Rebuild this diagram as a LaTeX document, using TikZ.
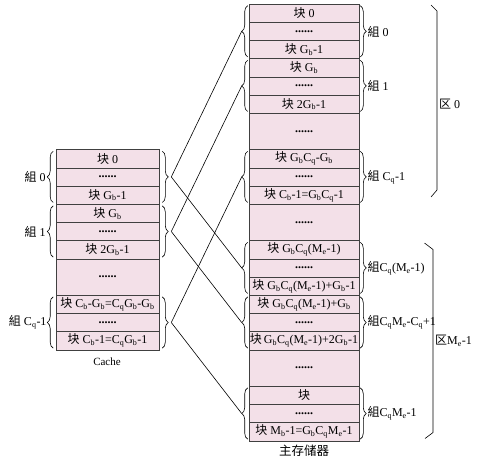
\documentclass[tikz,border=0pt]{standalone}
\usepackage{fontspec}
\setmainfont{Liberation Serif}
\newfontfamily\cjk{Noto Sans CJK SC}
\usetikzlibrary{decorations.pathreplacing}
\definecolor{cellpink}{RGB}{243,224,232}
\newcommand\sbs[1]{\textsubscript{#1}}
\newcommand\celldots{\textbf{......}}
\begin{document}
\begin{tikzpicture}[x=1pt,y=-1pt,
  cell/.style={draw=black!75, fill=cellpink, line width=0.6pt, inner sep=0pt,
    font=\fontsize{12}{13}\selectfont},
  mcell/.style={cell, minimum width=110pt, minimum height=18.2pt},
  mbig/.style={cell, minimum width=110pt, minimum height=36.4pt},
  ccell/.style={cell, minimum width=103pt, minimum height=18.2pt},
  cbig/.style={cell, minimum width=103pt, minimum height=36.4pt},
  gbrace/.style={decorate, decoration={brace, amplitude=6pt}, line width=0.6pt},
  lbl/.style={inner sep=0pt, font=\fontsize{12}{13}\selectfont},
  link/.style={line width=0.6pt}]
\useasboundingbox (0,0) rectangle (479,458);
% main memory
\node[mcell] (m0) at (304,13.1) {{\cjk 块} 0};
\node[mcell] (m1) at (304,31.3) {\celldots};
\node[mcell] (m2) at (304,49.5) {{\cjk 块} G\sbs{b}-1};
\node[mcell] (m3) at (304,67.7) {{\cjk 块} G\sbs{b}};
\node[mcell] (m4) at (304,85.9) {\celldots};
\node[mcell] (m5) at (304,104.1) {{\cjk 块} 2G\sbs{b}-1};
\node[mbig] (m6) at (304,131.4) {\celldots};
\node[mcell] (m7) at (304,158.7) {{\cjk 块} G\sbs{b}C\sbs{q}-G\sbs{b}};
\node[mcell] (m8) at (304,176.9) {\celldots};
\node[mcell] (m9) at (304,195.1) {{\cjk 块} C\sbs{b}-1=G\sbs{b}C\sbs{q}-1};
\node[mbig] (m10) at (304,222.4) {\celldots};
\node[mcell] (m11) at (304,249.7) {{\cjk 块} G\sbs{b}C\sbs{q}(M\sbs{e}-1)};
\node[mcell] (m12) at (304,267.9) {\celldots};
\node[mcell] (m13) at (304,286.1) {{\cjk 块} G\sbs{b}C\sbs{q}(M\sbs{e}-1)+G\sbs{b}-1};
\node[mcell] (m14) at (304,304.3) {{\cjk 块} G\sbs{b}C\sbs{q}(M\sbs{e}-1)+G\sbs{b}};
\node[mcell] (m15) at (304,322.5) {\celldots};
\node[mcell] (m16) at (304,340.7) {{\cjk 块}\,G\sbs{b}C\sbs{q}(M\sbs{e}-1)+2G\sbs{b}-1};
\node[mbig] (m17) at (304,368) {\celldots};
\node[mcell] (m18) at (304,395.3) {{\cjk 块}};
\node[mcell] (m19) at (304,413.5) {\celldots};
\node[mcell] (m20) at (304,431.7) {{\cjk 块} M\sbs{b}-1=G\sbs{b}C\sbs{q}M\sbs{e}-1};
\node[lbl, font=\fontsize{12.5}{13}\selectfont] (mlabel) at (304,451) {{\cjk 主存储器}};
% cache
\node[ccell] (c0) at (107.5,158.7) {{\cjk 块} 0};
\node[ccell] (c1) at (107.5,176.9) {\celldots};
\node[ccell] (c2) at (107.5,195.1) {{\cjk 块} G\sbs{b}-1};
\node[ccell] (c3) at (107.5,213.3) {{\cjk 块} G\sbs{b}};
\node[ccell] (c4) at (107.5,231.5) {\celldots};
\node[ccell] (c5) at (107.5,249.7) {{\cjk 块} 2G\sbs{b}-1};
\node[cbig] (c6) at (107.5,277) {\celldots};
\node[ccell] (c7) at (107.5,304.3) {{\cjk 块} C\sbs{b}-G\sbs{b}=C\sbs{q}G\sbs{b}-G\sbs{b}};
\node[ccell] (c8) at (107.5,322.5) {\celldots};
\node[ccell] (c9) at (107.5,340.7) {{\cjk 块} C\sbs{b}-1=C\sbs{q}G\sbs{b}-1};
\node[lbl, font=\fontsize{11}{12}\selectfont] (clabel) at (107,361.5) {Cache};
% cache braces (left)
\draw[gbrace] ([xshift=-2.5pt,yshift=2pt]c2.south west) -- ([xshift=-2.5pt,yshift=-2pt]c0.north west);
\draw[gbrace] ([xshift=-2.5pt,yshift=2pt]c5.south west) -- ([xshift=-2.5pt,yshift=-2pt]c3.north west);
\draw[gbrace] ([xshift=-2.5pt,yshift=2pt]c9.south west) -- ([xshift=-2.5pt,yshift=-2pt]c7.north west);
\node[lbl, anchor=east] (cz0) at ([xshift=-10pt]c1.west) {{\cjk 組} 0};
\node[lbl, anchor=east] (cz1) at ([xshift=-10pt]c4.west) {{\cjk 組} 1};
\node[lbl, anchor=east] (czq) at ([xshift=-9pt]c8.west) {{\cjk 組} C\sbs{q}-1};
% cache braces (right)
\draw[gbrace] ([xshift=3pt,yshift=-2pt]c0.north east) -- ([xshift=3pt,yshift=2pt]c2.south east);
\draw[gbrace] ([xshift=3pt,yshift=-2pt]c3.north east) -- ([xshift=3pt,yshift=2pt]c5.south east);
\draw[gbrace] ([xshift=3pt,yshift=-2pt]c7.north east) -- ([xshift=3pt,yshift=2pt]c9.south east);
\coordinate (ct0) at ([xshift=12pt]c1.east);
\coordinate (ct1) at ([xshift=12pt]c4.east);
\coordinate (ctq) at ([xshift=12pt]c8.east);
% memory braces (left)
\draw[gbrace] ([xshift=-1pt,yshift=2pt]m2.south west) -- ([xshift=-1pt,yshift=-2pt]m0.north west);
\draw[gbrace] ([xshift=-1pt,yshift=2pt]m5.south west) -- ([xshift=-1pt,yshift=-2pt]m3.north west);
\draw[gbrace] ([xshift=-1pt,yshift=2pt]m9.south west) -- ([xshift=-1pt,yshift=-2pt]m7.north west);
\draw[gbrace] ([xshift=-1pt,yshift=2pt]m13.south west) -- ([xshift=-1pt,yshift=-2pt]m11.north west);
\draw[gbrace] ([xshift=-1pt,yshift=2pt]m16.south west) -- ([xshift=-1pt,yshift=-2pt]m14.north west);
\draw[gbrace] ([xshift=-1pt,yshift=2pt]m20.south west) -- ([xshift=-1pt,yshift=-2pt]m18.north west);
\coordinate (mt0) at ([xshift=-7pt]m1.west);
\coordinate (mt1) at ([xshift=-7pt]m4.west);
\coordinate (mtq) at ([xshift=-7pt]m8.west);
\coordinate (mtA) at ([xshift=-7pt]m12.west);
\coordinate (mtB) at ([xshift=-7pt]m15.west);
\coordinate (mtC) at ([xshift=-7pt]m19.west);
% memory braces (right)
\draw[gbrace] ([xshift=1pt,yshift=-2pt]m0.north east) -- ([xshift=1pt,yshift=2pt]m2.south east);
\draw[gbrace] ([xshift=1pt,yshift=-2pt]m3.north east) -- ([xshift=1pt,yshift=2pt]m5.south east);
\draw[gbrace] ([xshift=1pt,yshift=-2pt]m7.north east) -- ([xshift=1pt,yshift=2pt]m9.south east);
\draw[gbrace] ([xshift=1pt,yshift=-2pt]m11.north east) -- ([xshift=1pt,yshift=2pt]m13.south east);
\draw[gbrace] ([xshift=1pt,yshift=-2pt]m14.north east) -- ([xshift=1pt,yshift=2pt]m16.south east);
\draw[gbrace] ([xshift=1pt,yshift=-2pt]m18.north east) -- ([xshift=1pt,yshift=2pt]m20.south east);
\node[lbl, anchor=west] (mz0) at ([xshift=8pt]m1.east) {{\cjk 組} 0};
\node[lbl, anchor=west] (mz1) at ([xshift=8pt]m4.east) {{\cjk 組} 1};
\node[lbl, anchor=west] (mzq) at ([xshift=8pt]m8.east) {{\cjk 組} C\sbs{q}-1};
\node[lbl, anchor=west] (mzA) at ([xshift=8pt]m12.east) {{\cjk 組}C\sbs{q}(M\sbs{e}-1)};
\node[lbl, anchor=west] (mzB) at ([xshift=8pt]m15.east) {{\cjk 組}C\sbs{q}M\sbs{e}-C\sbs{q}+1};
\node[lbl, anchor=west] (mzC) at ([xshift=8pt]m19.east) {{\cjk 組}C\sbs{q}M\sbs{e}-1};
% region brackets
\draw[link] (431,5) -- (437,11) -- (437,190) -- (431,197);
\node[lbl, anchor=west] (q0) at (439,104) {{\cjk 区} 0};
\draw[link] (424.5,243) -- (433,249.5) -- (433,432.5) -- (425,438.5);
\node[lbl, anchor=west] (qM) at (435,341) {{\cjk 区}M\sbs{e}-1};
% mapping lines
\draw[link] (ct0) -- (mt0);
\draw[link] (ct0) -- (mtA);
\draw[link] (ct1) -- (mt1);
\draw[link] (ct1) -- (mtB);
\draw[link] (ctq) -- (mtq);
\draw[link] (ctq) -- (mtC);
\end{tikzpicture}
\end{document}
